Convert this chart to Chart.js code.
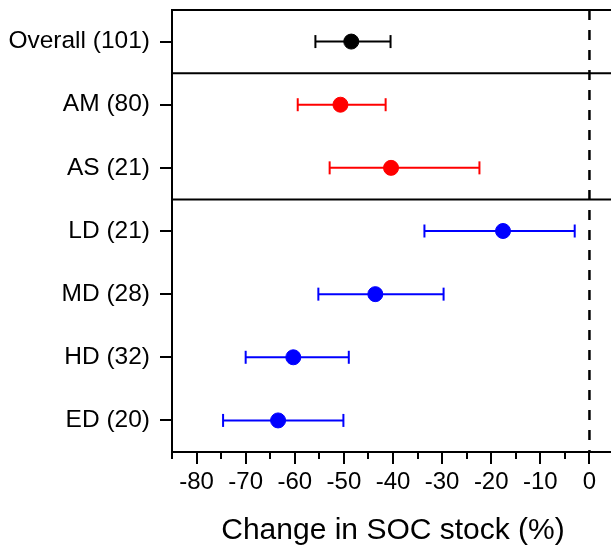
<!DOCTYPE html>
<html>
<head>
<meta charset="utf-8">
<script src="https://cdn.jsdelivr.net/npm/chart.js@4.4.1/dist/chart.umd.min.js"></script>
<style>
    html, body { margin: 0; padding: 0; background: #ffffff; overflow: hidden; }
    #wrap { width: 630px; height: 546px; }
</style>
</head>
<body>
<div id="wrap"><canvas id="chart-soc" width="630" height="546"></canvas></div>
<script>
// ===================== DATA =====================

const groups = ['Overall (101)', 'AM (80)', 'AS (21)', 'LD (21)', 'MD (28)', 'HD (32)', 'ED (20)'];
const means  = [-48.5, -50.7, -40.4, -17.6, -43.6, -60.3, -63.4];
const lower  = [-55.8, -59.4, -52.9, -33.6, -55.2, -70.0, -74.6];
const upper  = [-40.5, -41.5, -22.4, -3.0, -29.7, -49.0, -50.1];
const colors = ['#000000', '#ff0000', '#ff0000', '#0000ff', '#0000ff', '#0000ff', '#0000ff'];

const xTicks      = [-80, -70, -60, -50, -40, -30, -20, -10, 0];
const xMinorTicks = [-85, -75, -65, -55, -45, -35, -25, -15, -5, 5];
const separators  = [0.5, 2.5];   // lines between group blocks
const xMin = -85, xMax = 5;

Chart.defaults.font.family = '"Liberation Sans", Arial, sans-serif';
Chart.defaults.color = '#000000';

// ===================== DATASETS =====================

const datasets = [];

// mean points (on top)
datasets.push({
    type: 'scatter',
    data: means.map((m, i) => ({ x: m, y: i })),
    pointBackgroundColor: colors,
    pointBorderColor: colors,
    pointRadius: 7.5,
    pointHoverRadius: 7.5,
    order: 0
});

// confidence interval bars with caps
groups.forEach((g, i) => {
    datasets.push({
        type: 'line',
        data: [{ x: lower[i], y: i }, { x: upper[i], y: i }],
        borderColor: colors[i],
        borderWidth: 2,
        pointStyle: 'line',
        rotation: 90,
        pointRadius: 6.5,
        pointHoverRadius: 6.5,
        pointBorderColor: colors[i],
        pointBorderWidth: 2,
        order: 1
    });
});

// dashed zero line
datasets.push({
    type: 'line',
    data: [{ x: 0, y: -0.5 }, { x: 0, y: groups.length - 0.5 }],
    borderColor: '#000000',
    borderWidth: 2.5,
    borderDash: [10, 10],
    pointRadius: 0,
    clip: false,
    order: 2
});

// group separators
separators.forEach(s => {
    datasets.push({
        type: 'line',
        data: [{ x: xMin, y: s }, { x: xMax, y: s }],
        borderColor: '#000000',
        borderWidth: 2,
        pointRadius: 0,
        order: 3
    });
});

// ===================== FRAME + MINOR TICKS =====================

const frameAndMinor = {
    id: 'frameAndMinor',
    afterDraw(chart) {
        const { ctx, chartArea, scales: { x } } = chart;
        ctx.save();
        ctx.strokeStyle = '#000000';
        ctx.lineWidth = 2;
        // top frame line
        ctx.beginPath();
        ctx.moveTo(chartArea.left - 1, chartArea.top);
        ctx.lineTo(chartArea.right, chartArea.top);
        ctx.stroke();
        // minor ticks on x
        xMinorTicks.forEach(v => {
            const px = Math.round(x.getPixelForValue(v));
            ctx.beginPath();
            ctx.moveTo(px, x.top);
            ctx.lineTo(px, x.top + 7);
            ctx.stroke();
        });
        ctx.restore();
    }
};

// ===================== CHART =====================

new Chart(document.getElementById('chart-soc'), {
    type: 'scatter',
    data: { datasets },
    plugins: [frameAndMinor],
    options: {
        responsive: false,
        animation: false,
        layout: { padding: { top: 10, right: 16, left: 0, bottom: 0 } },
        plugins: { legend: { display: false }, tooltip: { enabled: false } },
        scales: {
            x: {
                type: 'linear',
                min: xMin,
                max: xMax,
                afterBuildTicks: axis => { axis.ticks = xTicks.map(v => ({ value: v })); },
                afterFit: axis => { axis.height = 94; axis.paddingLeft = 0; axis.paddingRight = 0; },
                ticks: { font: { size: 24 }, padding: 4, maxRotation: 0, autoSkip: false },
                grid: { drawOnChartArea: false, color: '#000000', lineWidth: 2, tickLength: 12 },
                border: { color: '#000000', width: 2 },
                title: {
                    display: true,
                    text: 'Change in SOC stock (%)',
                    font: { size: 30, lineHeight: 1 },
                    padding: { top: 0, bottom: 0 }
                }
            },
            y: {
                type: 'linear',
                reverse: true,
                min: -0.5,
                max: groups.length - 0.5,
                afterBuildTicks: axis => { axis.ticks = groups.map((_, i) => ({ value: i })); },
                afterFit: axis => { axis.width = 172; axis.paddingTop = 0; axis.paddingBottom = 0; },
                ticks: {
                    font: { size: 24.5 },
                    padding: 10,
                    autoSkip: false,
                    callback: v => groups[v]
                },
                grid: { drawOnChartArea: false, color: '#000000', lineWidth: 2, tickLength: 12 },
                border: { color: '#000000', width: 2 }
            }
        }
    }
});
</script>
</body>
</html>
